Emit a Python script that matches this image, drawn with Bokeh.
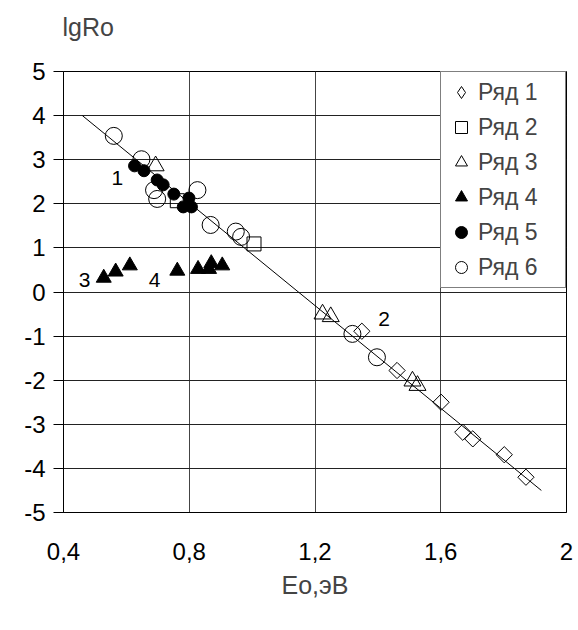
import math
from bokeh.plotting import figure
from bokeh.models import Range1d, FixedTicker, Label, Legend, LegendItem
from bokeh.embed import file_html
from bokeh.resources import INLINE

# ---- data ----
r1_x = [1.349, 1.461, 1.601, 1.670, 1.702, 1.802, 1.871]
r1_y = [-0.89, -1.78, -2.50, -3.18, -3.33, -3.69, -4.20]

r2_x = [0.762, 1.006]
r2_y = [2.07, 1.09]

r3_x = [0.693, 1.224, 1.250, 1.510, 1.526]
r3_y = [2.86, -0.50, -0.56, -2.02, -2.12]

r4_x = [0.528, 0.566, 0.611, 0.762, 0.828, 0.863, 0.870, 0.905]
r4_y = [0.32, 0.46, 0.60, 0.48, 0.52, 0.52, 0.65, 0.60]

r5_x = [0.626, 0.656, 0.698, 0.717, 0.751, 0.781, 0.799, 0.807]
r5_y = [2.86, 2.75, 2.54, 2.43, 2.22, 1.93, 2.13, 1.93]

r6_x = [0.560, 0.648, 0.688, 0.698, 0.826, 0.868, 0.948, 0.965, 1.319, 1.397]
r6_y = [3.54, 3.01, 2.31, 2.11, 2.31, 1.52, 1.37, 1.25, -0.95, -1.48]

fit_x = [0.46, 1.92]
fit_y = [4.0, -4.5]

series_names = ["Ряд 1", "Ряд 2", "Ряд 3", "Ряд 4", "Ряд 5", "Ряд 6"]

x_ticks = [0.4, 0.8, 1.2, 1.6, 2.0]
x_tick_labels = ["0,4", "0,8", "1,2", "1,6", "2"]
y_ticks = [-5, -4, -3, -2, -1, 0, 1, 2, 3, 4, 5]
y_tick_labels = ["-5", "-4", "-3", "-2", "-1", "0", "1", "2", "3", "4", "5"]

curve_labels = ["1", "2", "3", "4"]
curve_label_x = [0.571, 1.42, 0.467, 0.69]
curve_label_y = [2.58, -0.61, 0.27, 0.27]

y_title = "lgRo"

FONT = "Liberation Sans"

p = figure(width=578, height=601, output_backend="svg", toolbar_location=None,
           x_range=Range1d(0.4, 2.0), y_range=Range1d(-5, 5),
           min_border_left=63, min_border_top=71, min_border_right=12,
           min_border_bottom=89, title=y_title + "\n\u00a0")
p.outline_line_color = "black"
p.outline_line_width = 1
p.background_fill_color = "white"
p.border_fill_color = "white"

p.title.text_font = FONT
p.title.text_font_size = "25px"
p.title.text_font_style = "normal"
p.title.align = "left"
p.title.standoff = 6
p.title.offset = -1

# axes
p.xaxis.ticker = FixedTicker(ticks=x_ticks)
p.xaxis.major_label_overrides = {t: l for t, l in zip(x_ticks, x_tick_labels)}
p.yaxis.ticker = FixedTicker(ticks=y_ticks)
p.yaxis.major_label_overrides = {t: l for t, l in zip(y_ticks, y_tick_labels)}
for ax in (p.xaxis[0], p.yaxis[0]):
    ax.axis_line_color = "black"
    ax.major_label_text_font = FONT
    ax.major_label_text_font_size = "24px"
    ax.major_label_text_color = "black"
    ax.minor_tick_line_color = None
    ax.major_tick_line_color = "black"
p.xaxis.major_tick_out = 0
p.xaxis.major_tick_in = 0
p.xaxis.major_label_standoff = 30
p.xaxis.axis_label = "Eo,эВ"
p.xaxis.axis_label_text_font = FONT
p.xaxis.axis_label_text_font_size = "25px"
p.xaxis.axis_label_text_font_style = "normal"
p.xaxis.axis_label_standoff = 8
p.yaxis.major_tick_out = 10
p.yaxis.major_tick_in = 0
p.yaxis.major_label_standoff = 8

# grid
p.xgrid.ticker = FixedTicker(ticks=[0.8, 1.2, 1.6])
p.ygrid.ticker = FixedTicker(ticks=[-4, -3, -2, -1, 0, 1, 2, 3, 4])
p.xgrid.grid_line_color = "#444444"
p.ygrid.grid_line_color = "#222222"
p.xgrid.grid_line_width = 1
p.ygrid.grid_line_width = 1

# fit line
p.line(fit_x, fit_y, line_color="black", line_width=1)

# series
g1 = p.scatter(r1_x, r1_y, marker="square", angle=math.pi / 4, size=11.5,
               fill_color=None, line_color="black", line_width=1)
g2 = p.scatter(r2_x, r2_y, marker="square", size=14,
               fill_color=None, line_color="black", line_width=1)
g3 = p.scatter(r3_x, r3_y, marker="triangle", size=17,
               fill_color=None, line_color="black", line_width=1)
g4 = p.scatter(r4_x, r4_y, marker="triangle", size=15,
               fill_color="black", line_color="black", line_width=1)
g5 = p.scatter(r5_x, r5_y, marker="circle", size=12,
               fill_color="black", line_color="black", line_width=1)
g6 = p.scatter(r6_x, r6_y, marker="circle", size=17,
               fill_color=None, line_color="black", line_width=1)

# legend glyph for series 1 (legend ignores marker angle); drawn with zero size in the plot
g1_leg = p.scatter(r1_x, r1_y, marker="diamond", size=0,
                   fill_color=None, line_color="black", line_width=1)

legend = Legend(items=[LegendItem(label=n, renderers=[g])
                       for n, g in zip(series_names, [g1_leg, g2, g3, g4, g5, g6])],
                location="top_right", margin=0, padding=5, spacing=5,
                glyph_width=30, glyph_height=30, label_standoff=2,
                label_width=82, label_height=24,
                label_text_font=FONT, label_text_font_size="23px",
                border_line_color="black", border_line_width=1,
                background_fill_color="white", background_fill_alpha=1)
p.add_layout(legend, "center")

for t, x, y in zip(curve_labels, curve_label_x, curve_label_y):
    p.add_layout(Label(x=x, y=y, text=t, text_font=FONT, text_font_size="21px",
                       text_align="center", text_baseline="middle", text_color="black"))

open("out.html", "w").write(file_html(p, INLINE))
